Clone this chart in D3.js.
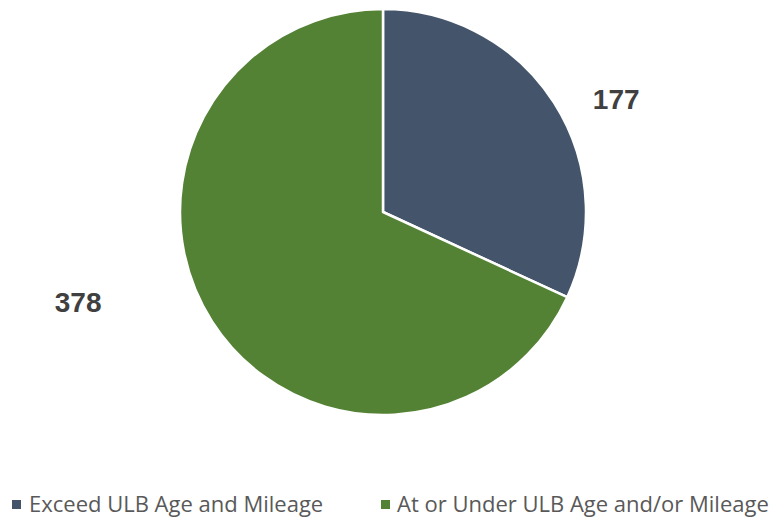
<!DOCTYPE html>
<html lang="en">
<head>
<meta charset="UTF-8">
<title>ULB Pie</title>
<script src="https://d3js.org/d3.v7.min.js"></script>
<style>
  body { margin: 0; background: #fff; }
  .label { font-family: "Liberation Sans", Arial, sans-serif; font-weight: bold; font-size: 28px; fill: #404040; }
  .legend text { font-family: "Open Sans", sans-serif; font-size: 22px; fill: #595959; }
</style>
</head>
<body>
<div id="chart"></div>
<script>
// data
const categories = ["Exceed ULB Age and Mileage", "At or Under ULB Age and/or Mileage"];
const values = [177, 378];
const colors = ["#44546A", "#548235"];
// label placement (degrees clockwise from top, distance from centre)
const labelAngles = [64.2, 253.5];
const labelRadii = [259, 318];

const width = 769, height = 519;
const cx = 383, cy = 212, radius = 203;

const svg = d3.select("#chart").append("svg")
  .attr("width", width)
  .attr("height", height);

const pie = d3.pie().sort(null).value(d => d);
const arc = d3.arc().innerRadius(0).outerRadius(radius);

const g = svg.append("g").attr("transform", `translate(${cx},${cy})`);

g.selectAll("path")
  .data(pie(values))
  .enter().append("path")
  .attr("d", arc)
  .attr("fill", (d, i) => colors[i])
  .attr("stroke", "#fff")
  .attr("stroke-width", 2.5)
  .attr("stroke-linejoin", "round");

g.selectAll("text.label")
  .data(values)
  .enter().append("text")
  .attr("class", "label")
  .attr("text-anchor", "middle")
  .attr("dominant-baseline", "central")
  .attr("x", (d, i) => labelRadii[i] * Math.sin(labelAngles[i] * Math.PI / 180))
  .attr("y", (d, i) => -labelRadii[i] * Math.cos(labelAngles[i] * Math.PI / 180))
  .text(d => d);

// legend
const legendX = [12, 381];
const legend = svg.append("g").attr("class", "legend");
const item = legend.selectAll("g")
  .data(categories)
  .enter().append("g")
  .attr("transform", (d, i) => `translate(${legendX[i]},512)`);

item.append("rect")
  .attr("x", 0).attr("y", -12)
  .attr("width", 9).attr("height", 9)
  .attr("fill", (d, i) => colors[i]);

item.append("text")
  .attr("x", (d, i) => i === 0 ? 17 : 16)
  .attr("y", 0)
  .text(d => d);
</script>
</body>
</html>
